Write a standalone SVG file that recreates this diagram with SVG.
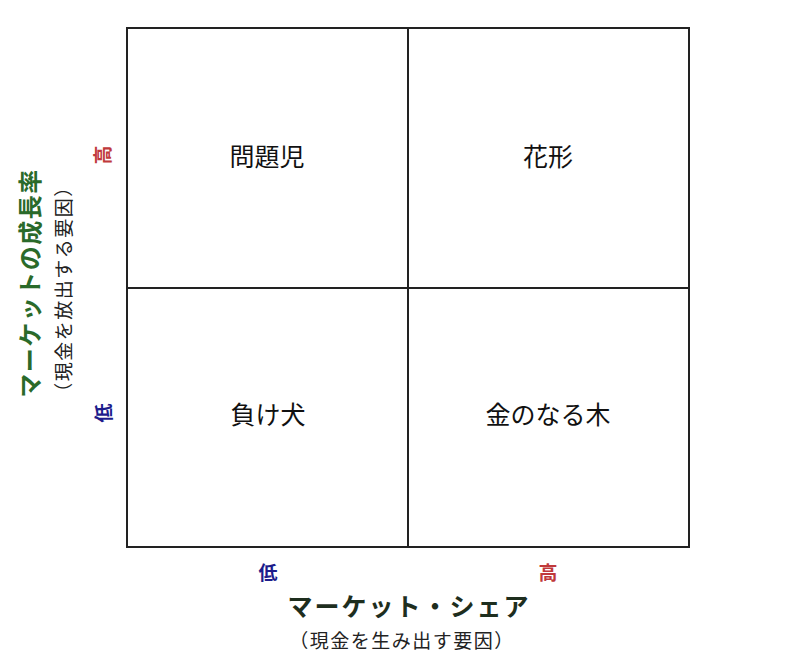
<svg xmlns="http://www.w3.org/2000/svg" width="800" height="668" viewBox="0 0 800 668">
<style>
text{font-family:"Noto Sans CJK JP","Noto Sans CJK SC",sans-serif;text-anchor:middle;dominant-baseline:central}
.cell{font-size:25px;fill:#111}
.axis{font-size:24px;font-weight:bold;letter-spacing:1.5px}
.sub{font-size:19px;fill:#222;letter-spacing:1.5px}
.hi{font-size:19px;font-weight:bold;fill:#c0393b}
.lo{font-size:19px;font-weight:bold;fill:#1c1c8c}
.ln{stroke:#222;stroke-width:2;fill:none}
</style>
<rect width="800" height="668" fill="#fff"/>
<g id="connectors">
<rect class="ln" x="127" y="28" width="562" height="519"/>
<line class="ln" x1="408" y1="28" x2="408" y2="547"/>
<line class="ln" x1="127" y1="288" x2="689" y2="288"/>
</g>
<g id="q-problem"><text class="cell" x="267" y="155">問題児</text></g>
<g id="q-star"><text class="cell" x="548" y="155">花形</text></g>
<g id="q-dog"><text class="cell" x="268" y="413">負け犬</text></g>
<g id="q-cash"><text class="cell" x="548" y="413">金のなる木</text></g>
<g id="y-axis">
<text class="axis" fill="#2a6a2a" transform="translate(28,283) rotate(-90)">マーケットの成長率</text>
<text class="sub" transform="translate(62,289) rotate(-90)">（現金を放出する要因）</text>
<text class="hi" transform="translate(101,155) rotate(-90)">高</text>
<text class="lo" transform="translate(102,413) rotate(-90)">低</text>
</g>
<g id="x-axis">
<text class="lo" x="268" y="571">低</text>
<text class="hi" x="548" y="571">高</text>
<text class="axis" fill="#1e2e1e" x="409" y="605" style="font-size:25px;letter-spacing:2px">マーケット・シェア</text>
<text class="sub" x="402" y="639">（現金を生み出す要因）</text>
</g>
</svg>
